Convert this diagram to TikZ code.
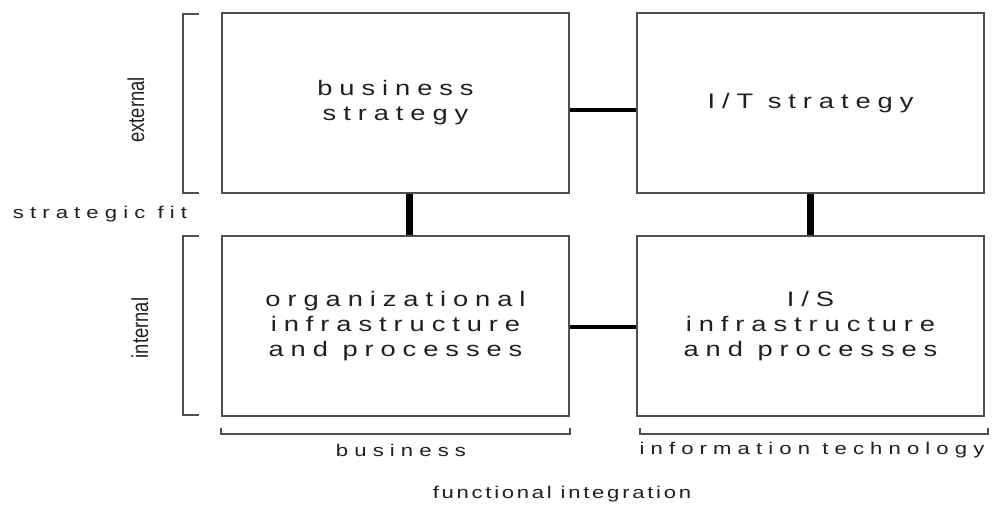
\documentclass[tikz,border=0pt]{standalone}
\usepackage{fontspec}
\setmainfont{Liberation Sans}
\newfontfamily\boxfont[LetterSpace=33,FakeStretch=1.3]{Liberation Sans}
\newfontfamily\lblfont[LetterSpace=36,FakeStretch=1.3]{Liberation Sans}
\newfontfamily\fifont[LetterSpace=16,FakeStretch=1.3]{Liberation Sans}
\newfontfamily\sidefont[FakeStretch=0.8]{Liberation Sans}
\definecolor{edge}{HTML}{505050}
\definecolor{txt}{HTML}{202020}
\begin{document}
\begin{tikzpicture}[x=1pt,y=-1pt,
  box/.style={draw=edge, line width=2pt, minimum width=347pt, minimum height=180pt, inner sep=0pt, align=center, text=txt, font=\boxfont\fontsize{21}{25}\selectfont},
  hconn/.style={line width=4pt, black},
  vconn/.style={line width=7pt, black},
  brk/.style={draw=edge, line width=2pt},
  lbl/.style={inner sep=0pt, text=txt, font=\lblfont\fontsize{17}{20}\selectfont},
  side/.style={inner sep=0pt, rotate=90, text=txt, font=\sidefont\fontsize{23}{26}\selectfont}]
\useasboundingbox (0,0) rectangle (1001,507);
\fill[white] (0,0) rectangle (1001,507);
% boxes
\node[box] (bs) at (395.5,103) {business\\strategy};
\node[box] (its) at (810.5,103) {I/T strategy};
\node[box] (oi) at (395.5,326) {organizational\\infrastructure\\and processes};
\node[box] (isi) at (810.5,326) {I/S\\infrastructure\\and processes};
% helper coordinates
\coordinate (hy1) at (0,110);
\coordinate (hy2) at (0,327);
\coordinate (vx1) at (409,0);
\coordinate (vx2) at (810,0);
% connectors
\draw[hconn] (bs.east |- hy1) -- (its.west |- hy1);
\draw[hconn] (oi.east |- hy2) -- (isi.west |- hy2);
\draw[vconn] (bs.south -| vx1) -- (oi.north -| vx1);
\draw[vconn] (its.south -| vx2) -- (isi.north -| vx2);
% left brackets
\coordinate (lb1a) at (199,14);
\coordinate (lb1b) at (199,193);
\coordinate (lb2a) at (199,236);
\coordinate (lb2b) at (199,415);
\draw[brk] (lb1a) -- ++(-16,0) |- (lb1b);
\draw[brk] (lb2a) -- ++(-16,0) |- (lb2b);
% bottom brackets
\coordinate (bb1a) at (221,428);
\coordinate (bb1b) at (570,428);
\coordinate (bb2a) at (640,428);
\coordinate (bb2b) at (988,428);
\draw[brk] (bb1a) -- ++(0,6) -| (bb1b);
\draw[brk] (bb2a) -- ++(0,6) -| (bb2b);
% labels
\node[side] (ext) at (136,110) {external};
\node[side] (int) at (140,328) {internal};
\node[lbl] (sf) at (100,214) {strategic fit};
\node[lbl] (bus) at (401,450) {business};
\node[lbl] (it) at (812,450) {information technology};
\node[inner sep=0pt, text=txt, font=\fifont\fontsize{17}{20}\selectfont] (fi) at (562,494) {functional integration};
\end{tikzpicture}
\end{document}
